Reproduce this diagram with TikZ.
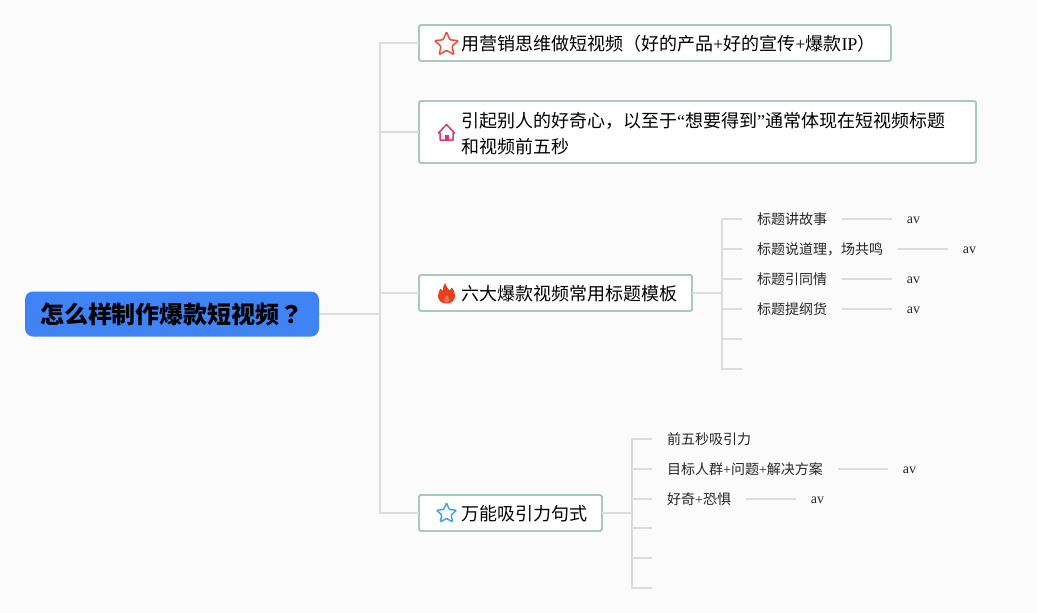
\documentclass[tikz,border=0pt]{standalone}
\usepackage{fontspec}
\setmainfont{Liberation Serif}
\newfontfamily\cjk{Noto Sans CJK SC}
\newfontfamily\cjktc{Noto Sans CJK TC}
\usetikzlibrary{shapes.geometric}
\definecolor{bgc}{HTML}{FBFBFB}
\definecolor{linec}{HTML}{DCDCDC}
\definecolor{boxc}{HTML}{A6C9C0}
\definecolor{rootc}{HTML}{3F83F5}
\definecolor{starred}{HTML}{E9503A}
\definecolor{starblue}{HTML}{3FA4E2}
\definecolor{housec}{HTML}{D8366A}
\definecolor{flamec}{HTML}{E8401C}
\tikzset{
  x=1pt,y=-1pt,
  conn/.style={draw=linec,line width=1.8pt},
  lead/.style={conn,shorten <=15pt,shorten >=15pt},
  stub/.style={conn,shorten >=15pt},
  rootbox/.style={fill=rootc,rounded corners=8pt,outer sep=0pt,minimum width=294pt,minimum height=45pt,inner sep=0pt,font=\cjk\fontsize{24}{24}\selectfont\bfseries,text=black},
  bigbox/.style={draw=boxc,fill=white,line width=1.8pt,rounded corners=1.5pt,anchor=north west,inner sep=0pt,outer sep=0pt},
  bigtext/.style={anchor=west,inner sep=0pt,align=left,font=\cjk\fontsize{18}{26}\selectfont,text=black},
  leaf/.style={anchor=west,inner sep=0pt,font=\cjk\fontsize{14}{14}\selectfont,text=black!85},
  avtext/.style={anchor=center,inner sep=0pt,text height=8.5pt,text depth=0pt,font=\fontsize{14}{14}\selectfont,text=black!85},
  icostar/.style={star,star points=5,star point ratio=2.15,draw=#1,fill=white,line width=1.5pt,inner sep=0pt,rounded corners=1pt},
}
\newcommand{\lat}[1]{{\rmfamily #1}}
\begin{document}
\begin{tikzpicture}
\useasboundingbox[fill=bgc] (0,0) rectangle (1037,613);
% root
\node[rootbox] (root) at (172,314) {\raisebox{-1pt}{怎么样制作爆款短视频{\cjktc\bfseries ？}}};
% big boxes
\node[bigbox,minimum width=472pt,minimum height=36pt] (b1) at (419,25) {};
\node[bigbox,minimum width=557pt,minimum height=62pt] (b2) at (419,101) {};
\node[bigbox,minimum width=273pt,minimum height=36pt] (b3) at (419,275) {};
\node[bigbox,minimum width=183pt,minimum height=36pt] (b4) at (419,495) {};
% main trunk
\coordinate (j0) at (380,314);
\coordinate (j1) at (380,43);
\coordinate (j2) at (380,132);
\coordinate (j3) at (380,293);
\coordinate (j4) at (380,513);
\draw[conn] (root.east) -- (j0);
\draw[conn,line cap=rect] (j1) -- (j4);
\draw[conn] (j1) -- (b1.west);
\draw[conn] (j2) -- (b2.west);
\draw[conn] (j3) -- (b3.west);
\draw[conn] (j4) -- (b4.west);
% texts in boxes
\node[bigtext] (t1) at (461,44) {用营销思维做短视频（好的产品\lat{+}好的宣传\lat{+}爆款\lat{IP}）};
\node[bigtext] (t2) at (461,133.5) {引起别人的好奇心，以至于\lat{“}想要得到\lat{”}通常体现在短视频标题\\和视频前五秒};
\node[bigtext] (t3) at (461,294) {六大爆款视频常用标题模板};
\node[bigtext] (t4) at (461,514) {万能吸引力句式};
% icons
\node[icostar=starred,minimum size=25pt] (i1) at (446.5,44.5) {};
\node[icostar=starblue,minimum size=21pt] (i4) at (446.5,513.5) {};
\draw[draw=housec,line width=1.5pt,line join=round,fill=white] (438.5,133) -- (446.5,124.5) -- (454.5,133) -- (453,133) -- (453,140) -- (440,140) -- (440,133) -- cycle;
\fill[housec] (444.5,135) rectangle (448.5,140);
\fill[flamec] (446.5,303.5) .. controls (441,303.5) and (438,300) .. (438,296)
  .. controls (438,293) and (439.5,290.5) .. (440.5,288.5)
  .. controls (441,290) and (441.5,290.5) .. (442.5,291)
  .. controls (443,288) and (443.5,285) .. (445,283)
  .. controls (446,286.5) and (448,288.5) .. (449.5,290.5)
  .. controls (450,289.5) and (451,288.5) .. (452,287.5)
  .. controls (454,290) and (455,293) .. (455,296)
  .. controls (455,300) and (452,303.5) .. (446.5,303.5) -- cycle;
\fill[white!25!flamec] (447,295) .. controls (447.8,297) and (449.5,298) .. (449.5,300)
  .. controls (449.5,302) and (448,302.6) .. (446.8,302.6)
  .. controls (445,302.6) and (444,301.5) .. (444,300)
  .. controls (444,298) and (446.4,297) .. (447,295) -- cycle;
% branch 3 subtree
\coordinate (s3) at (722,293);
\coordinate (a1) at (722,219);
\coordinate (a2) at (722,249);
\coordinate (a3) at (722,279);
\coordinate (a4) at (722,309);
\coordinate (a5) at (722,339);
\coordinate (a6) at (722,369);
\coordinate (e5) at (742,339);
\coordinate (e6) at (742,369);
\node[leaf] (l1) at (757,219) {标题讲故事};
\node[leaf] (l2) at (757,249) {标题说道理，场共鸣};
\node[leaf] (l3) at (757,279) {标题引同情};
\node[leaf] (l4) at (757,309) {标题提纲货};
\node[avtext] (v1) at (913.5,219) {av};
\node[avtext] (v2) at (969.5,249) {av};
\node[avtext] (v3) at (913.5,279) {av};
\node[avtext] (v4) at (913.5,309) {av};
\draw[conn] (b3.east) -- (s3);
\draw[conn,line cap=rect] (a1) -- (a6);
\foreach \n in {1,2,3,4}{
  \draw[stub] (a\n) -- (l\n.west);
  \draw[lead] (l\n.east) -- (v\n.west);
}
\draw[conn] (a5) -- (e5);
\draw[conn] (a6) -- (e6);
% branch 4 subtree
\coordinate (s4) at (632,513);
\coordinate (c1) at (632,439);
\coordinate (c2) at (632,469);
\coordinate (c3) at (632,499);
\coordinate (c4) at (632,528);
\coordinate (c5) at (632,558);
\coordinate (c6) at (632,588);
\coordinate (f4) at (652,528);
\coordinate (f5) at (652,558);
\coordinate (f6) at (652,588);
\node[leaf] (m1) at (667,439) {前五秒吸引力};
\node[leaf] (m2) at (667,469) {目标人群\lat{+}问题\lat{+}解决方案};
\node[leaf] (m3) at (667,499) {好奇\lat{+}恐惧};
\node[avtext] (w2) at (909.5,469) {av};
\node[avtext] (w3) at (817.5,499) {av};
\draw[conn] (b4.east) -- (s4);
\draw[conn,line cap=rect] (c1) -- (c6);
\foreach \n in {1,2,3}{\draw[stub] (c\n) -- (m\n.west);}
\draw[lead] (m2.east) -- (w2.west);
\draw[lead] (m3.east) -- (w3.west);
\draw[conn] (c4) -- (f4);
\draw[conn] (c5) -- (f5);
\draw[conn] (c6) -- (f6);
\end{tikzpicture}
\end{document}
